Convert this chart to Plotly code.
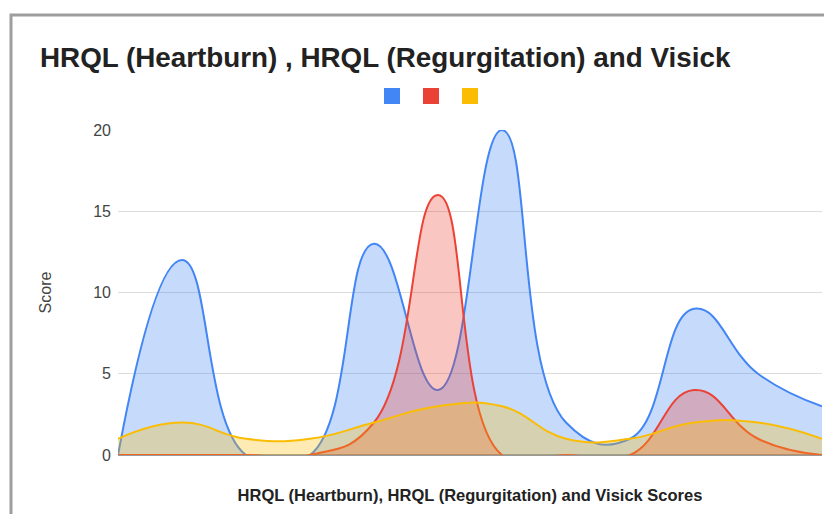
import plotly.graph_objects as go

# Data
points = list(range(1, 13))
heartburn = [0, 12, 0, 0, 13, 4, 20, 2, 1, 9, 5, 3]
regurgitation = [0, 0, 0, 0, 2, 16, 0, 0, 0, 4, 1, 0]
visick = [1, 2, 1, 1, 2, 3, 3, 1, 1, 2, 2, 1]
y_ticks = [0, 5, 10, 15, 20]

BLUE = "#4285F4"
RED = "#EA4335"
YELLOW = "#FBBC04"
FONT = "Liberation Sans, Arial, sans-serif"

series = [
    (heartburn, BLUE, "rgba(66,133,244,0.30)"),
    (regurgitation, RED, "rgba(234,67,53,0.30)"),
    (visick, YELLOW, "rgba(251,188,4,0.30)"),
]

fig = go.Figure()
for vals, col, fillcol in series:
    fig.add_trace(go.Scatter(
        x=points, y=vals, mode="lines",
        line=dict(color=col, width=2, shape="spline", smoothing=1.3),
        fill="tozeroy", fillcolor=fillcol,
        showlegend=False, hoverinfo="skip",
    ))

# the page adds an 8px body margin; figure coordinates are shifted by it
W, H = 816, 506
L, T = 110, 122
R = W - 814
B = H - 447
pw, ph = W - L - R, H - T - B

# legend swatches (series have no names in the original), one legend each
legend_names = ["legend", "legend2", "legend3"]
legend_centers = [384, 423, 462]
legend_layout = {}
for (_, col, _), lg, cx in zip(series, legend_names, legend_centers):
    fig.add_trace(go.Scatter(
        x=[None], y=[None], mode="markers", name=" ",
        marker=dict(symbol="square", size=16, color=col),
        showlegend=True, legend=lg,
    ))
    legend_layout[lg] = dict(
        orientation="h", xref="container", yref="container",
        x=(cx - 20) / W, xanchor="left", y=1 - 88 / H, yanchor="middle",
        entrywidth=0, entrywidthmode="pixels",
        font=dict(size=2), bgcolor="rgba(0,0,0,0)",
    )

fig.update_layout(
    width=W, height=H,
    margin=dict(l=L, r=R, t=T, b=B),
    paper_bgcolor="white", plot_bgcolor="white",
    font=dict(family=FONT, color="#444"),
    title=dict(
        text="<b>HRQL (Heartburn) , HRQL (Regurgitation) and Visick</b>",
        x=32 / W, xanchor="left", xref="container",
        y=1 - 49 / H, yanchor="middle", yref="container",
        font=dict(size=27.8, color="#222", family=FONT),
    ),
    xaxis=dict(
        range=[points[0], points[-1]], showgrid=False, zeroline=False,
        showticklabels=False, ticks="", showline=False,
        title=dict(
            text="<b>HRQL (Heartburn), HRQL (Regurgitation) and Visick Scores</b>",
            font=dict(size=16.5, color="#222", family=FONT), standoff=34,
        ),
    ),
    yaxis=dict(
        range=[0, 20], tickvals=y_ticks, showgrid=True, gridcolor="#dcdcdc",
        gridwidth=1, zeroline=True, zerolinecolor="#999", zerolinewidth=1.5,
        ticks="", ticklabelstandoff=6,
        tickfont=dict(size=16, color="#444", family=FONT),
        title=dict(text="Score", font=dict(size=16, color="#444", family=FONT),
                   standoff=37),
    ),
    shapes=[dict(
        type="rect", xref="paper", yref="paper",
        x0=(3 - L) / pw, x1=(W + 20 - L) / pw,
        y0=-(H + 20 - (T + ph)) / ph, y1=(T + ph - 7) / ph,
        line=dict(color="#9e9e9e", width=3), fillcolor="rgba(0,0,0,0)",
        layer="above",
    )],
    **legend_layout,
)

fig.write_html("out.html")
